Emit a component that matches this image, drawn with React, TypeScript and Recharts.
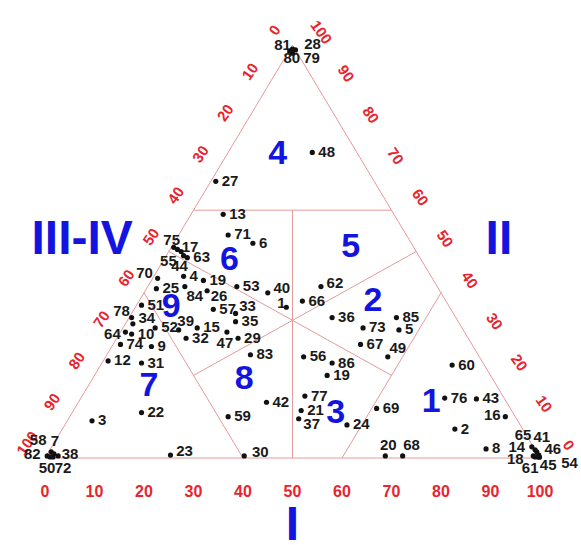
import React from 'react';
import { ScatterChart, Scatter, XAxis, YAxis, ReferenceLine, Label } from 'recharts';

// Ternary data: [label, I (%), II (%)]  — III-IV = 100 - I - II
type TP = [string, number, number];

const apexPoints: TP[] = [
  ['81', 0.5, 99], ['28', 1.2, 98.8], ['80', 0.2, 98.5], ['79', 1, 98],
  ['48', 17, 74], ['27', 1, 67],
];

const zone6Points: TP[] = [
  ['13', 6.5, 59], ['71', 10, 54], ['6', 16, 52], ['53', 18, 41.5], ['40', 25, 40], ['1', 30.5, 36.5],
];

const zone9Points: TP[] = [
  ['75', 0.5, 51], ['17', 2.5, 50], ['63', 4.5, 48.5], ['55', 1.5, 50.5], ['44', 3.5, 49],
  ['70', 1, 43.5], ['4', 6, 44], ['19', 10.5, 43], ['25', 2, 41], ['84', 7.5, 41.5],
  ['26', 12.5, 40.5], ['33', 21, 35], ['57', 16, 36], ['35', 22, 33], ['15', 15, 31.5],
  ['39', 11.5, 31], ['52', 6.5, 31.5], ['32', 14, 29], ['47', 21.5, 30.5], ['29', 24.5, 29],
  ['51', 1, 37],
];

const zone7Points: TP[] = [
  ['78', 0.5, 34], ['34', 1.5, 32.5], ['64', 1, 30.5], ['10', 2.5, 30], ['74', 1.5, 27.5],
  ['9', 8, 27], ['12', 1, 23.5], ['31', 8, 23], ['22', 14, 11], ['3', 5, 9], ['23', 25, 0.7],
  ['58', 0.5, 1.5], ['7', 1.3, 1], ['82', 0.2, 0.5], ['38', 2.4, 0.5], ['50', 0.9, 0.25], ['72', 1.5, 0.25],
];

const zone8Points: TP[] = [
  ['83', 29, 25], ['42', 38, 13.5], ['59', 32, 10], ['30', 40, 0.5],
];

const zone3Points: TP[] = [
  ['56', 40, 24.5], ['86', 46.5, 23], ['19', 47, 20], ['77', 45, 15], ['21', 46, 11.5], ['37', 46.5, 9.5], ['24', 57, 8],
];

const zone25Points: TP[] = [
  ['62', 35, 41.5], ['66', 33, 38], ['36', 41, 34], ['73', 48.5, 31.5], ['85', 54, 34],
  ['5', 56, 31], ['67', 50, 27.5], ['49', 57, 24.5],
];

const zone1Points: TP[] = [
  ['60', 71, 22.5], ['76', 73.5, 14.5], ['43', 80, 14.3], ['16', 88, 10], ['2', 79.3, 7],
  ['8', 88, 2.2], ['69', 61, 12], ['20', 68.5, 0.5], ['68', 72, 0.5],
  ['14', 97, 2.7], ['65', 98, 2], ['41', 98.6, 1.5], ['46', 99.4, 0.7], ['18', 98.4, 0.5],
  ['61', 98.9, 0.25], ['45', 99.5, 0.25], ['54', 99.8, 0.2],
];

// Field numbers placed at [name, I, II]
const zoneLabels: TP[] = [
  ['4', 10, 74], ['5', 36, 51.5], ['6', 13, 48.5], ['2', 47, 38.5], ['9', 7, 37],
  ['8', 30.5, 19.5], ['7', 12, 18], ['3', 53, 11.5], ['1', 71, 14],
];

const bottomTicks = [0, 10, 20, 30, 40, 50, 60, 70, 80, 90, 100];
const leftTicks = [0, 10, 20, 30, 40, 50, 60, 70, 80, 90, 100];
const rightTicks = [0, 10, 20, 30, 40, 50, 60, 70, 80, 90, 100];

// Field boundaries: [I1, II1, I2, II2]
const C = 100 / 3;
const boundaries: [number, number, number, number][] = [
  [0, 0, 100, 0], [0, 0, 0, 100], [100, 0, 0, 100],
  [0, 60, 40, 60], [20, 60, 50, 0],
  [C, C, 0, 50], [C, C, 50, 50], [C, C, 20, 20], [C, C, 60, 20],
  [0, 40, 40, 0], [60, 0, 60, 40],
];

// label placement (center offsets in px) for crowded points
const LABEL_OFFSETS: Record<string, [number, number]> = {
  '81': [-10, -5], '28': [17, -6], '80': [2, 6], '79': [19, 4],
  '1': [-5, -5], '40': [14, -5], '75': [-2, -8], '17': [9, -5], '55': [-9, 11], '44': [-4, 10],
  '70': [-13, -6], '84': [10, 9], '26': [12, 5], '33': [12, -8], '39': [7, -9],
  '47': [-2, 10], '78': [-10, -7], '34': [14, -6], '64': [-13, 1],
  '16': [-13, -2], '49': [10, -9], '62': [14, -4], '37': [13, 5],
  '23': [14, -5], '30': [16, -4], '20': [3, -11], '68': [9, -11],
  '14': [-15, 0], '65': [-12, -15], '41': [5, -15], '46': [14, -7], '18': [-18, 3],
  '61': [-5, 11], '45': [10, 8], '54': [30, 5],
  '58': [-13, -12], '7': [1, -13], '82': [-15, -2], '38': [12, -2], '50': [-3, 11], '72': [10, 11],
};

const RED = '#e8242c';
const BLUE = '#1414e0';
const LINE = '#e59a9a';

const toXY = (I: number, II: number) => ({ x: I + II / 2, y: II });

const PointShape = (props: any) => {
  const { cx, cy, payload } = props;
  const off = LABEL_OFFSETS[payload.id];
  return (
    <g>
      <circle cx={cx} cy={cy} r={2.6} fill="#111" />
      {off ? (
        <text x={cx + off[0]} y={cy + off[1]} textAnchor="middle" dominantBaseline="central"
          fontSize={15} fontWeight="bold" fill="#1a1a1a">{payload.id}</text>
      ) : (
        <text x={cx + 6} y={cy - 1} textAnchor="start" dominantBaseline="central"
          fontSize={15} fontWeight="bold" fill="#1a1a1a">{payload.id}</text>
      )}
    </g>
  );
};

const LeftTickShape = (props: any) => {
  const { cx, cy, payload } = props;
  const x = cx - 18, y = cy - 15;
  return (
    <text x={x} y={y} textAnchor="middle" dominantBaseline="central" fontSize={15} fontWeight="bold"
      fill={RED} transform={`rotate(-55 ${x} ${y})`}>{payload.v}</text>
  );
};

const RightTickShape = (props: any) => {
  const { cx, cy, payload } = props;
  const x = cx + 29, y = cy - 13;
  return (
    <text x={x} y={y} textAnchor="middle" dominantBaseline="central" fontSize={15} fontWeight="bold"
      fill={RED} transform={`rotate(55 ${x} ${y})`}>{payload.v}</text>
  );
};

const ZoneShape = (props: any) => {
  const { cx, cy, payload } = props;
  return (
    <text x={cx} y={cy} textAnchor="middle" dominantBaseline="central" fontSize={34} fontWeight="bold"
      fill={BLUE}>{payload.name}</text>
  );
};

const TitleShape = (props: any) => {
  const { cx, cy, payload } = props;
  return (
    <text x={cx} y={cy} textAnchor="middle" dominantBaseline="central" fontSize={payload.size}
      fontWeight="bold" fill={BLUE}>{payload.name}</text>
  );
};

const axisTitles = [
  { name: 'III-IV', x: 7.5, y: 53.3, size: 48 },
  { name: 'II', x: 91.7, y: 53.5, size: 48 },
];

export default function App() {
  const allPoints = [
    ...apexPoints, ...zone6Points, ...zone9Points, ...zone7Points,
    ...zone8Points, ...zone3Points, ...zone25Points, ...zone1Points,
  ].map(([id, I, II]) => ({ id, ...toXY(I, II) }));

  const zoneData = zoneLabels.map(([name, I, II]) => ({ name, ...toXY(I, II) }));
  const leftData = leftTicks.map((v) => ({ v, ...toXY(0, 100 - v) }));
  const rightData = rightTicks.map((v) => ({ v, ...toXY(100 - v, v) }));

  return (
    <div style={{ position: 'absolute', left: 0, top: 0, width: 581, height: 545, background: '#fff',
      fontFamily: '"Liberation Sans", Arial, sans-serif' }}>
      <ScatterChart width={581} height={545} margin={{ top: 45, left: 45, right: 41, bottom: 57 }}>
        <XAxis type="number" dataKey="x" domain={[0, 100]} ticks={bottomTicks} interval={0}
          axisLine={false} tickLine={false} tickMargin={22} height={30}
          tick={{ fill: RED, fontSize: 16, fontWeight: 'bold' }}>
          <Label value="I" position="bottom" offset={18} fill={BLUE} fontSize={48} fontWeight="bold" />
        </XAxis>
        <YAxis type="number" dataKey="y" domain={[0, 100]} hide />
        {boundaries.map(([i1, ii1, i2, ii2], k) => (
          <ReferenceLine key={k} segment={[toXY(i1, ii1), toXY(i2, ii2)]} stroke={LINE}
            strokeWidth={1} ifOverflow="visible" />
        ))}
        <Scatter data={leftData} shape={LeftTickShape} isAnimationActive={false} />
        <Scatter data={rightData} shape={RightTickShape} isAnimationActive={false} />
        <Scatter data={axisTitles} shape={TitleShape} isAnimationActive={false} />
        <Scatter data={zoneData} shape={ZoneShape} isAnimationActive={false} />
        <Scatter data={allPoints} shape={PointShape} isAnimationActive={false} />
      </ScatterChart>
    </div>
  );
}
